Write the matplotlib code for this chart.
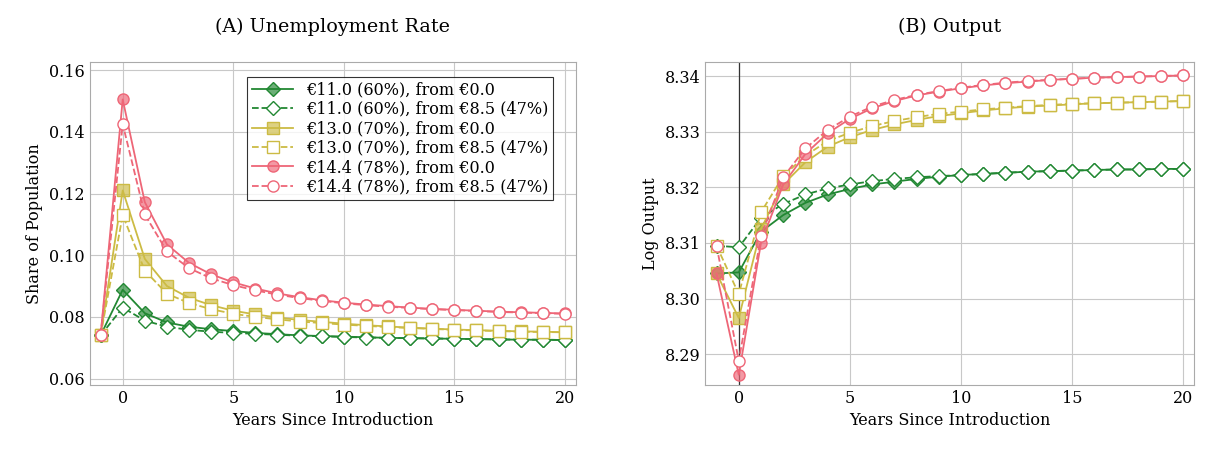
import matplotlib
matplotlib.use("Agg")
import matplotlib.pyplot as plt
import numpy as np

plt.rcParams['font.family'] = ['DejaVu Serif']
plt.rcParams['font.size'] = 11.5

years = np.arange(-1, 21)

u_g = [0.074, 0.0888, 0.0812, 0.0782, 0.0768, 0.0760, 0.0754, 0.0748, 0.0744, 0.0740, 0.0738,
       0.0736, 0.0734, 0.0732, 0.0731, 0.0730, 0.0729, 0.0728, 0.0727, 0.0726, 0.0726, 0.0725]
u_g_d = [0.074, 0.0830, 0.0788, 0.0768, 0.0758, 0.0752, 0.0748, 0.0745, 0.0742, 0.0739, 0.0737,
         0.0735, 0.0733, 0.0732, 0.0731, 0.0730, 0.0729, 0.0728, 0.0727, 0.0726, 0.0726, 0.0725]
u_y = [0.074, 0.1210, 0.0988, 0.0900, 0.0862, 0.0838, 0.0820, 0.0808, 0.0798, 0.0790, 0.0784,
       0.0778, 0.0773, 0.0769, 0.0765, 0.0762, 0.0759, 0.0757, 0.0755, 0.0753, 0.0752, 0.0750]
u_y_d = [0.074, 0.1130, 0.0950, 0.0875, 0.0845, 0.0825, 0.0810, 0.0800, 0.0792, 0.0785, 0.0780,
         0.0775, 0.0771, 0.0767, 0.0764, 0.0761, 0.0758, 0.0756, 0.0754, 0.0752, 0.0751, 0.0750]
u_r = [0.074, 0.1505, 0.1172, 0.1035, 0.0975, 0.0938, 0.0912, 0.0892, 0.0876, 0.0864, 0.0854,
       0.0846, 0.0840, 0.0835, 0.0830, 0.0826, 0.0823, 0.0820, 0.0817, 0.0815, 0.0813, 0.0811]
u_r_d = [0.074, 0.1425, 0.1132, 0.1012, 0.0958, 0.0925, 0.0903, 0.0886, 0.0872, 0.0861, 0.0852,
         0.0844, 0.0838, 0.0833, 0.0829, 0.0825, 0.0822, 0.0819, 0.0816, 0.0814, 0.0812, 0.0810]

o_g = [8.3045, 8.3047, 8.3120, 8.3150, 8.3172, 8.3187, 8.3197, 8.3205, 8.3210, 8.3215, 8.3219,
       8.3222, 8.3224, 8.3226, 8.3228, 8.3229, 8.3230, 8.3231, 8.3232, 8.3232, 8.3233, 8.3233]
o_g_d = [8.3095, 8.3092, 8.3145, 8.3170, 8.3187, 8.3198, 8.3205, 8.3211, 8.3215, 8.3218, 8.3220,
         8.3222, 8.3224, 8.3226, 8.3228, 8.3229, 8.3230, 8.3231, 8.3232, 8.3232, 8.3233, 8.3233]
o_y = [8.3045, 8.2965, 8.3125, 8.3205, 8.3245, 8.3273, 8.3290, 8.3303, 8.3313, 8.3321, 8.3328,
       8.3333, 8.3338, 8.3342, 8.3345, 8.3347, 8.3349, 8.3351, 8.3352, 8.3353, 8.3354, 8.3355]
o_y_d = [8.3095, 8.3008, 8.3155, 8.3220, 8.3257, 8.3283, 8.3298, 8.3310, 8.3319, 8.3326, 8.3332,
         8.3336, 8.3340, 8.3343, 8.3346, 8.3348, 8.3350, 8.3351, 8.3352, 8.3353, 8.3354, 8.3355]
o_r = [8.3045, 8.2863, 8.3100, 8.3205, 8.3260, 8.3297, 8.3323, 8.3342, 8.3355, 8.3365, 8.3372,
       8.3378, 8.3383, 8.3387, 8.3390, 8.3393, 8.3395, 8.3397, 8.3398, 8.3399, 8.3400, 8.3401]
o_r_d = [8.3095, 8.2888, 8.3112, 8.3218, 8.3270, 8.3303, 8.3327, 8.3345, 8.3357, 8.3366, 8.3373,
         8.3379, 8.3384, 8.3388, 8.3391, 8.3393, 8.3395, 8.3397, 8.3398, 8.3399, 8.3400, 8.3401]

labels = ["€11.0 (60%), from €0.0", "€11.0 (60%), from €8.5 (47%)",
          "€13.0 (70%), from €0.0", "€13.0 (70%), from €8.5 (47%)",
          "€14.4 (78%), from €0.0", "€14.4 (78%), from €8.5 (47%)"]
colors = ["#228833", "#228833", "#CCBB44", "#CCBB44", "#EE6677", "#EE6677"]
markers = ["D", "D", "s", "s", "o", "o"]
sizes = [7, 7, 8, 8, 8, 8]

fig = plt.figure(figsize=(12.1, 4.5), dpi=100)
ax1 = fig.add_axes([0.074, 0.145, 0.402, 0.717])
ax2 = fig.add_axes([0.583, 0.145, 0.404, 0.717])

def draw(ax, series):
    for i, s in enumerate(series):
        solid = i % 2 == 0
        ax.plot(years, s, color=colors[i], marker=markers[i], ms=sizes[i],
                linestyle='-' if solid else '--', lw=1.3,
                markerfacecolor=(colors[i] + "AA") if solid else 'white',
                markeredgecolor=colors[i], label=labels[i], zorder=3)
    ax.grid(True, color='#c8c8c8', lw=0.8)
    ax.set_xticks([0, 5, 10, 15, 20])
    ax.set_xlim(-1.5, 20.5)
    ax.set_xlabel("Years Since Introduction")
    ax.tick_params(length=0)
    for sp in ax.spines.values():
        sp.set_color('#aaaaaa')

draw(ax1, [u_g, u_g_d, u_y, u_y_d, u_r, u_r_d])
ax1.set_ylim(0.058, 0.1626)
ax1.set_yticks([0.06, 0.08, 0.10, 0.12, 0.14, 0.16])
ax1.set_yticklabels(["0.06", "0.08", "0.10", "0.12", "0.14", "0.16"])
ax1.set_ylabel("Share of Population")
ax1.set_title("(A) Unemployment Rate", pad=22)
leg = ax1.legend(loc='upper right', bbox_to_anchor=(0.97, 0.98), fancybox=False,
                 edgecolor='black', handlelength=2.6, borderpad=0.3, labelspacing=0.15)
leg.get_frame().set_linewidth(0.8)

draw(ax2, [o_g, o_g_d, o_y, o_y_d, o_r, o_r_d])
ax2.axvline(0, color='#333333', lw=0.9, zorder=2)
ax2.set_ylim(8.2845, 8.3425)
ax2.set_yticks([8.29, 8.30, 8.31, 8.32, 8.33, 8.34])
ax2.set_yticklabels(["8.29", "8.30", "8.31", "8.32", "8.33", "8.34"])
ax2.set_ylabel("Log Output")
ax2.set_title("(B) Output", pad=22)

fig.savefig("out.png")
